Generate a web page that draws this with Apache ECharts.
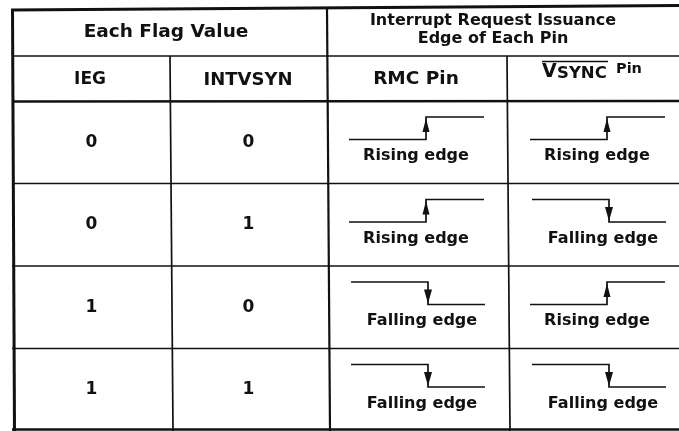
<!DOCTYPE html>
<html>
<head>
<meta charset="utf-8">
<script src="https://cdn.jsdelivr.net/npm/echarts@6/dist/echarts.min.js"></script>
<style>
  html, body { margin: 0; padding: 0; background: #ffffff; }
  #chart { width: 679px; height: 431px; }
</style>
</head>
<body>
<div id="chart"></div>
<script>
// ---- table data ----
const groupHeaders = ['Each Flag Value', 'Interrupt Request Issuance\nEdge of Each Pin'];
const columnHeaders = ['IEG', 'INTVSYN', 'RMC Pin', 'VSYNC Pin'];
const rowIds = ['r1', 'r2', 'r3', 'r4'];
const iegValues = [0, 0, 1, 1];
const intvsynValues = [0, 1, 0, 1];
const rmcEdges = ['Rising edge', 'Rising edge', 'Falling edge', 'Falling edge'];
const vsyncEdges = ['Rising edge', 'Falling edge', 'Rising edge', 'Falling edge'];

// ---- layout ----
const INK = '#111111';
const FAM = '"DejaVu Sans"';
const f = (size) => 'bold ' + size + 'px ' + FAM;
const colX = [12, 170, 327, 508, 679];

const chart = echarts.init(document.getElementById('chart'), null, { renderer: 'canvas' });

function textEl(x, y, text, size, align) {
  return {
    type: 'text',
    x: x, y: y,
    style: {
      text: text, font: f(size), fill: INK,
      align: align || 'center', textAlign: align || 'center',
      verticalAlign: 'middle', textVerticalAlign: 'middle'
    }
  };
}
function lineEl(x1, y1, x2, y2, w) {
  return { type: 'line', shape: { x1, y1, x2, y2 }, style: { stroke: INK, lineWidth: w } };
}

function waveform(api, idx, left, top, label) {
  const X = (v) => api.coord([v, idx])[0];
  const rising = label.indexOf('Rising') === 0;
  const hi = top + 16, lo = top + 38.5;
  const els = [];
  if (rising) {
    const s = X(left + 99);
    els.push({ type: 'polyline', shape: { points: [[X(left + 22), lo], [s, lo], [s, hi], [X(left + 157), hi]] },
      style: { stroke: INK, lineWidth: 1.7, fill: null } });
    els.push({ type: 'polygon', shape: { points: [[s, hi + 1.5], [s - 3.5, hi + 15], [s + 3.5, hi + 15]] },
      style: { fill: INK } });
    els.push(textEl(X(left + 89), top + 55, label, 16));
  } else {
    const s = X(left + 101);
    els.push({ type: 'polyline', shape: { points: [[X(left + 24), hi], [s, hi], [s, lo], [X(left + 158), lo]] },
      style: { stroke: INK, lineWidth: 1.7, fill: null } });
    els.push({ type: 'polygon', shape: { points: [[s, lo - 1], [s - 4, lo - 15], [s + 4, lo - 15]] },
      style: { fill: INK } });
    els.push(textEl(X(left + 95), top + 55, label, 16));
  }
  return els;
}

function renderRow(params, api) {
  const idx = api.value(1);
  const c = api.coord([0, idx]);
  const bandH = api.size([0, 1])[1];
  const top = c[1] - bandH / 2;
  const bottom = c[1] + bandH / 2;
  const X = (v) => api.coord([v, idx])[0];
  const children = [];
  children.push(textEl(X((colX[0] + colX[1]) / 2 + 0.5), top + 41.5, String(iegValues[idx]), 17));
  children.push(textEl(X((colX[1] + colX[2]) / 2), top + 41.5, String(intvsynValues[idx]), 17));
  children.push.apply(children, waveform(api, idx, colX[2], top, rmcEdges[idx]));
  children.push.apply(children, waveform(api, idx, colX[3], top, vsyncEdges[idx]));
  const last = idx === rowIds.length - 1;
  const ly = last ? bottom - 1.5 : bottom;
  children.push(lineEl(X(colX[0]), ly, X(colX[4]), ly, last ? 2.5 : 1.7));
  return { type: 'group', children: children };
}

const headerGraphics = [
  lineEl(11, 10, 679, 5.5, 3),
  lineEl(12.5, 9, 14.5, 431, 3),
  lineEl(12, 56, 679, 56, 1.7),
  lineEl(12, 101.5, 679, 101, 2.5),
  lineEl(170, 56, 173, 431, 1.7),
  lineEl(327, 7, 330, 431, 2.2),
  lineEl(507, 56, 510, 431, 1.7),
  textEl(166, 32, groupHeaders[0], 18.5),
  {
    type: 'text', x: 493, y: 30,
    style: { text: groupHeaders[1], font: f(16), fill: INK, lineHeight: 18,
      align: 'center', textAlign: 'center', verticalAlign: 'middle', textVerticalAlign: 'middle' }
  },
  textEl(90, 80, columnHeaders[0], 17),
  textEl(248, 80, columnHeaders[1], 18),
  textEl(416, 79, columnHeaders[2], 18.5),
  // VSYNC (with overline) Pin
  textEl(542, 72.5, columnHeaders[3].charAt(0), 19, 'left'),
  textEl(557, 74, columnHeaders[3].slice(1, 5), 16.5, 'left'),
  textEl(616, 69.5, columnHeaders[3].slice(6), 14.5, 'left'),
  lineEl(542, 61.5, 608, 61.5, 1.5)
];

chart.setOption({
  backgroundColor: '#ffffff',
  animation: false,
  grid: { left: 0, right: 0, top: 101, bottom: 0 },
  xAxis: { type: 'value', min: 0, max: 679, show: false },
  yAxis: { type: 'category', data: rowIds, inverse: true, show: false },
  graphic: headerGraphics,
  series: [{
    type: 'custom',
    renderItem: renderRow,
    clip: false,
    encode: { x: 0, y: 1 },
    data: rowIds.map((id, i) => [0, i])
  }]
});
</script>
</body>
</html>
